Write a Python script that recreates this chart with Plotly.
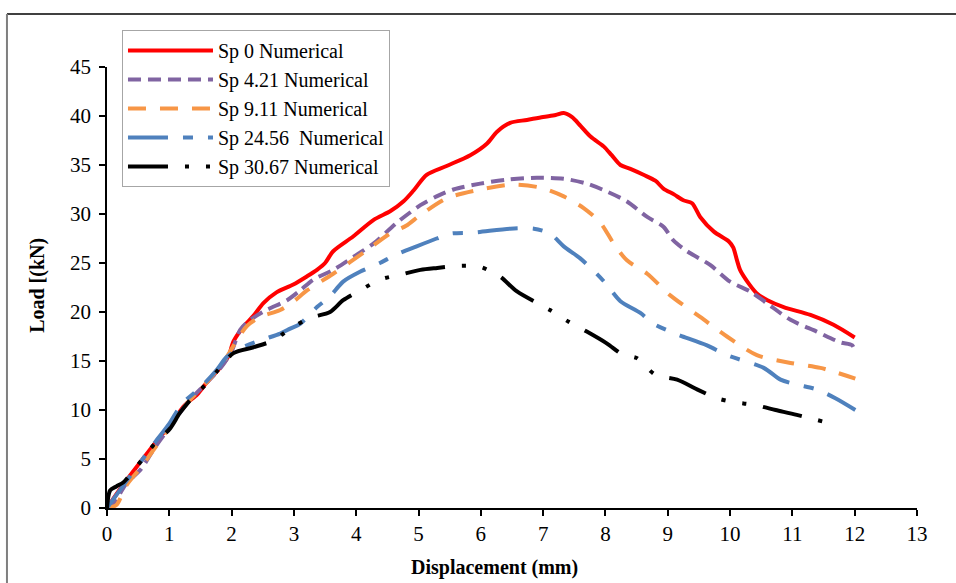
import plotly.graph_objects as go

# Load-displacement curves (displacement in mm, load in kN)
sp0_x = [0, 0.25, 0.5, 0.77, 1.01, 1.25, 1.45, 1.6, 1.8, 1.95, 2.03, 2.19, 2.35, 2.51, 2.72, 2.99,
         3.2, 3.37, 3.5, 3.63, 3.95, 4.28, 4.55, 4.76, 4.92, 5.13, 5.45, 5.83, 6.10, 6.26, 6.47, 6.74,
         7.0, 7.2, 7.33, 7.46, 7.6, 7.76, 7.97, 8.1, 8.24, 8.4, 8.61, 8.8, 8.93, 9.1, 9.25, 9.39, 9.52,
         9.74, 9.98, 10.05, 10.11, 10.16, 10.3, 10.43, 10.6, 10.86, 11.29, 11.66, 12.0]
sp0_y = [0, 2.3, 4.4, 6.6, 8.5, 10.5, 11.6, 12.8, 14.2, 15.5, 17.0, 18.5, 19.6, 20.9, 22.0, 22.8,
         23.6, 24.3, 25.0, 26.2, 27.7, 29.4, 30.3, 31.3, 32.4, 34.0, 34.9, 36.0, 37.2, 38.4, 39.3, 39.6,
         39.9, 40.1, 40.3, 39.9, 39.0, 37.9, 36.9, 36.0, 35.0, 34.6, 34.0, 33.4, 32.6, 32.0, 31.4, 31.1, 29.7,
         28.2, 27.2, 26.6, 25.3, 24.3, 22.9, 21.9, 21.2, 20.5, 19.7, 18.7, 17.4]

sp421_x = [0, 0.1, 0.3, 0.55, 0.75, 1.0, 1.3, 1.6, 1.85, 2.0, 2.14, 2.30, 2.56, 2.89, 3.1, 3.31, 3.63,
           3.95, 4.28, 4.65, 5.03, 5.29, 5.56, 5.99, 6.42, 6.90, 7.33, 7.70, 8.02, 8.34, 8.67, 8.93, 9.09,
           9.31, 9.68, 10.0, 10.32, 10.59, 10.97, 11.39, 11.77, 11.96, 12.01]
sp421_y = [0, 0.4, 2.4, 4.0, 6.0, 8.2, 10.8, 12.8, 14.5, 16.0, 18.2, 19.2, 20.2, 21.2, 22.2, 23.3, 24.3,
           25.6, 27.0, 29.1, 30.9, 31.8, 32.5, 33.1, 33.5, 33.7, 33.6, 33.1, 32.3, 31.3, 29.7, 28.7, 27.3,
           26.2, 24.8, 23.1, 22.1, 20.9, 19.2, 18.0, 16.9, 16.6, 15.8]

sp911_x = [0, 0.15, 0.3, 0.55, 0.8, 1.0, 1.3, 1.6, 1.9, 2.1, 2.25, 2.46, 2.78, 3.0, 3.21, 3.63, 4.17,
           4.54, 4.80, 5.03, 5.45, 5.99, 6.52, 6.95, 7.33, 7.65, 7.92, 8.13, 8.34, 8.67, 9.04, 9.52, 9.95,
           10.43, 10.97, 11.45, 12.01]
sp911_y = [0, 0.3, 2.2, 4.2, 6.4, 8.2, 10.8, 12.8, 15.2, 17.3, 18.6, 19.5, 20.2, 21.1, 22.2, 23.9, 26.3,
           28.0, 28.8, 29.9, 31.6, 32.5, 33.0, 32.7, 31.8, 30.6, 29.1, 27.0, 25.3, 23.9, 21.7, 19.5, 17.5,
           15.6, 14.8, 14.3, 13.2]

sp2456_x = [0, 0.25, 0.55, 0.77, 1.0, 1.2, 1.5, 1.75, 1.92, 2.14, 2.46, 2.78, 2.94, 3.10, 3.37, 3.58,
            3.79, 4.06, 4.38, 4.62, 4.97, 5.29, 5.51, 5.88, 6.47, 6.85, 7.11, 7.33, 7.59, 7.86, 8.02, 8.24,
            8.56, 8.77, 9.04, 9.20, 9.63, 9.95, 10.54, 10.81, 11.07, 11.39, 11.69, 12.01]
sp2456_y = [0, 2.2, 4.8, 6.7, 8.6, 10.6, 12.3, 14.0, 15.4, 16.3, 17.1, 17.8, 18.3, 18.8, 20.5, 21.6,
            23.1, 24.1, 25.0, 25.8, 26.7, 27.5, 28.0, 28.1, 28.5, 28.5, 28.0, 26.7, 25.5, 23.9, 22.8, 21.1,
            19.9, 18.8, 18.0, 17.6, 16.6, 15.6, 14.3, 13.1, 12.6, 12.1, 11.2, 10.0]

sp3067_x = [0, 0.05, 0.15, 0.26, 0.32, 0.56, 0.77, 1.01, 1.17, 1.36, 1.60, 1.8, 2.03, 2.35, 2.67, 2.94,
            3.26, 3.58, 3.79, 4.06, 4.38, 4.70, 5.03, 5.3, 5.64, 5.99, 6.31, 6.58, 7.11, 7.41, 7.70, 8.02,
            8.29, 8.50, 8.80, 9.15, 9.47, 9.79, 10.06, 10.40, 10.73, 11.07, 11.69]
sp3067_y = [0, 1.8, 2.2, 2.6, 3.0, 4.9, 6.6, 8.1, 9.7, 11.2, 12.7, 14.2, 15.8, 16.4, 17.1, 18.3,
            19.4, 20.0, 21.2, 22.2, 23.3, 23.8, 24.3, 24.5, 24.7, 24.6, 23.6, 22.1, 20.2, 19.0, 18.0, 16.8,
            15.6, 15.3, 13.6, 13.1, 12.1, 11.2, 10.8, 10.5, 10.0, 9.5, 8.5]

series = [
    ("Sp 0 Numerical", sp0_x, sp0_y, "#FF0000", "solid"),
    ("Sp 4.21 Numerical", sp421_x, sp421_y, "#8064A2", "13px,7px"),
    ("Sp 9.11 Numerical", sp911_x, sp911_y, "#F79646", "18px,14px"),
    ("Sp 24.56  Numerical", sp2456_x, sp2456_y, "#4F81BD", "40px,15px,10px,15px"),
    ("Sp 30.67 Numerical", sp3067_x, sp3067_y, "#000000", "40px,17px,4px,17px,4px,17px"),
]

FONT = "Liberation Serif, Times New Roman, serif"

fig = go.Figure()
for name, xs, ys, color, dash in series:
    fig.add_trace(go.Scatter(
        x=xs, y=ys, name=name, mode="lines",
        line=dict(color=color, width=4, dash=dash, shape="spline", smoothing=0.8),
    ))

axis_common = dict(
    showline=True, linecolor="black", linewidth=1.5,
    ticks="outside", ticklen=6, tickwidth=1.5, tickcolor="black",
    showgrid=False, zeroline=False, automargin=False,
    tickfont=dict(family=FONT, size=21, color="black"),
)

fig.update_layout(
    width=956, height=583,
    margin=dict(l=107, r=39, t=67, b=75),
    paper_bgcolor="white", plot_bgcolor="white",
    font=dict(family=FONT, color="black"),
    xaxis=dict(range=[0, 13], dtick=1, tick0=0, **axis_common),
    yaxis=dict(range=[0, 45], dtick=5, tick0=0, ticklabelstandoff=4, **axis_common),
    legend=dict(
        x=0.0185, y=1.084, xanchor="left", yanchor="top",
        bgcolor="white", bordercolor="#A6A6A6", borderwidth=1,
        font=dict(family=FONT, size=20, color="black"),
        itemwidth=85,
    ),
    showlegend=True,
)

# axis titles
fig.add_annotation(text="<b>Displacement (mm)</b>", xref="paper", yref="paper",
                   x=0.479, y=-0.136, xanchor="center", yanchor="middle", showarrow=False,
                   font=dict(family=FONT, size=20, color="black"))
fig.add_annotation(text="<b>Load [(kN)</b>", xref="paper", yref="paper",
                   x=-0.0852, y=0.506, xanchor="center", yanchor="middle", showarrow=False,
                   textangle=-90, font=dict(family=FONT, size=20, color="black"))

# outer chart frame (top and left edges)
fig.add_shape(type="line", xref="paper", yref="paper",
              x0=-0.1235, x1=1.06, y0=1.120, y1=1.120,
              line=dict(color="#404040", width=2))
fig.add_shape(type="line", xref="paper", yref="paper",
              x0=-0.1235, x1=-0.1235, y0=1.120, y1=-0.2,
              line=dict(color="#7F7F7F", width=2))

fig.write_html("out.html")
